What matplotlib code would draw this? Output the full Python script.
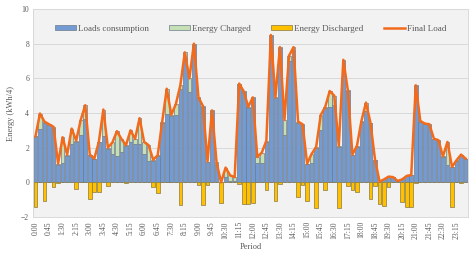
import matplotlib
matplotlib.use("Agg")
import matplotlib.pyplot as plt
import numpy as np

plt.rcParams['font.family'] = ['Liberation Serif', 'DejaVu Serif']

# 15-minute periods of one day
periods = ["%d:%02d" % (m // 60, m % 60) for m in range(0, 24 * 60, 15)]

loads = [2.65, 3.1, 3.43, 3.33, 3.15, 1.0, 1.1, 1.5, 2.2, 2.3, 2.75, 3.65,
         1.55, 1.35, 2.3, 2.68, 1.95, 1.62, 1.5, 1.75, 2.1, 2.3, 2.2, 2.2,
         1.65, 1.25, 1.25, 1.5, 3.4, 3.95, 3.85, 3.9, 5.4, 7.2, 5.2, 7.9,
         4.85, 4.35, 1.2, 4.1, 1.0, 0.0, 0.3, 0.1, 0.1, 5.65, 5.2, 4.3,
         4.85, 1.1, 1.1, 2.35, 8.45, 4.85, 7.75, 2.75, 7.0, 7.55, 3.45, 3.3,
         1.08, 1.1, 2.0, 3.0, 4.3, 4.35, 4.45, 2.05, 7.0, 5.25, 1.55, 2.05,
         3.5, 4.1, 3.4, 1.3, 0.04, 0.17, 0.33, 0.3, 0.08, 0.17, 0.37, 0.42,
         5.55, 3.5, 3.37, 3.33, 2.5, 2.4, 1.45, 1.0, 0.89, 1.25, 1.55, 1.35]

charged = [0.0, 0.87, 0.07, 0.02, 0.05, 0.08, 1.5, 0.1, 0.9, 0.1, 0.85, 0.8,
           0.05, 0.02, 0.03, 1.52, 0.05, 0.68, 1.45, 0.75, 0.04, 0.7, 0.3, 1.5,
           0.68, 0.89, 0.05, 0.06, 0.1, 1.45, 0.05, 0.6, 0.2, 0.3, 0.8, 0.1,
           0.05, 0.05, 0.0, 0.05, 0.15, 0.0, 0.55, 0.3, 0.2, 0.05, 0.05, 0.05,
           0.05, 0.36, 0.62, 0.05, 0.05, 0.05, 0.05, 0.85, 0.3, 0.25, 0.05, 0.05,
           0.0, 0.54, 0.04, 0.87, 0.05, 0.92, 0.55, 0.05, 0.07, 0.05, 0.05, 0.05,
           0.04, 0.5, 0.03, 0.01, 0.0, 0.0, 0.0, 0.0, 0.0, 0.0, 0.0, 0.0,
           0.05, 0.04, 0.02, 0.02, 0.02, 0.03, 0.05, 1.33, 0.0, 0.02, 0.05, 0.02]

discharged = [-1.43, 0, -1.08, 0, -0.27, -0.05, 0, 0, 0, -0.4, 0, 0,
              -0.94, -0.55, -0.55, 0, -0.22, 0, 0, 0, -0.05, 0, 0, 0,
              0, 0, -0.27, -0.6, 0, 0, 0, 0, -1.3, 0, 0, 0,
              -0.15, -1.3, -0.15, 0, 0, -1.2, 0, 0, 0, -0.1, -1.25, -1.25,
              -1.2, 0, 0, -0.46, 0, -1.05, -0.1, 0, 0, 0, -0.85, -0.15,
              -1.1, 0, -1.5, 0, -0.47, 0, 0, -1.5, 0, -0.2, -0.45, -0.55,
              0, 0, -0.97, -0.2, -1.25, -1.35, -0.25, 0, 0, -1.15, -1.45, -1.45,
              -0.03, 0, 0, 0, 0, 0, 0, 0, -1.45, 0, -0.03, 0]

final_load = [2.65, 3.97, 3.5, 3.35, 3.2, 1.08, 2.6, 1.6, 3.1, 2.4, 3.6, 4.45,
              1.6, 1.37, 2.33, 4.2, 2.0, 2.3, 2.95, 2.5, 2.14, 3.0, 2.5, 3.7,
              2.33, 2.14, 1.3, 1.56, 3.5, 5.4, 3.9, 4.5, 5.6, 7.5, 6.0, 8.0,
              4.9, 4.4, 1.2, 4.15, 1.15, 0.0, 0.85, 0.4, 0.3, 5.7, 5.25, 4.35,
              4.9, 1.46, 1.72, 2.4, 8.5, 4.9, 7.8, 3.6, 7.3, 7.8, 3.5, 3.35,
              1.08, 1.64, 2.04, 3.87, 4.35, 5.27, 5.0, 2.1, 7.07, 5.3, 1.6, 2.1,
              3.54, 4.6, 3.43, 1.31, 0.04, 0.17, 0.33, 0.3, 0.08, 0.17, 0.37, 0.42,
              5.6, 3.54, 3.39, 3.35, 2.52, 2.43, 1.5, 2.33, 0.89, 1.27, 1.6, 1.37]

x = np.arange(len(periods))
text_col = '#595959'

fig = plt.figure(figsize=(4.74, 2.58), dpi=100)
ax = fig.add_axes([0.07, 0.159, 0.917, 0.806])
ax.set_facecolor('#f2f2f2')

edge = '#6e7b8b'
b1 = ax.bar(x, loads, width=0.8, color='#729bd4', edgecolor=edge, linewidth=0.5,
            label='Loads consumption', zorder=2)
b2 = ax.bar(x, charged, width=0.8, bottom=loads, color='#c5e0b4', edgecolor=edge,
            linewidth=0.5, label='Energy Charged', zorder=2)
b3 = ax.bar(x, discharged, width=0.8, color='#ffc000', edgecolor='#8a7a40',
            linewidth=0.5, label='Energy Discharged', zorder=2)
ln, = ax.plot(x, final_load, color='#f26a1b', linewidth=1.8, label='Final Load', zorder=3)

ax.set_xlim(-0.5, len(periods) - 0.5)
ax.set_ylim(-2, 10)
ax.set_yticks(range(-2, 11, 2))
ax.set_xticks(x[::3])
ax.set_xticklabels(periods[::3], rotation=90)
ax.tick_params(length=0, labelsize=5.5, colors=text_col, pad=3)
ax.grid(axis='y', color='#d9d9d9', linewidth=0.7, zorder=0)
ax.set_axisbelow(True)
for s in ax.spines.values():
    s.set_color('#d9d9d9')
    s.set_linewidth(0.7)

ax.set_ylabel('Energy (kWh/4)', fontsize=6, color=text_col, labelpad=4)
ax.set_xlabel('Period', fontsize=6, color=text_col, labelpad=3)

ax.legend([b1, b2, b3, ln], ['Loads consumption', 'Energy Charged', 'Energy Discharged', 'Final Load'],
          ncol=4, loc='center', bbox_to_anchor=(0.5, 0.905), frameon=False,
          fontsize=6.5, labelcolor=text_col, handlelength=2.3, handleheight=0.6,
          columnspacing=2.3, handletextpad=0.2)

fig.savefig('out.png', dpi=100)
